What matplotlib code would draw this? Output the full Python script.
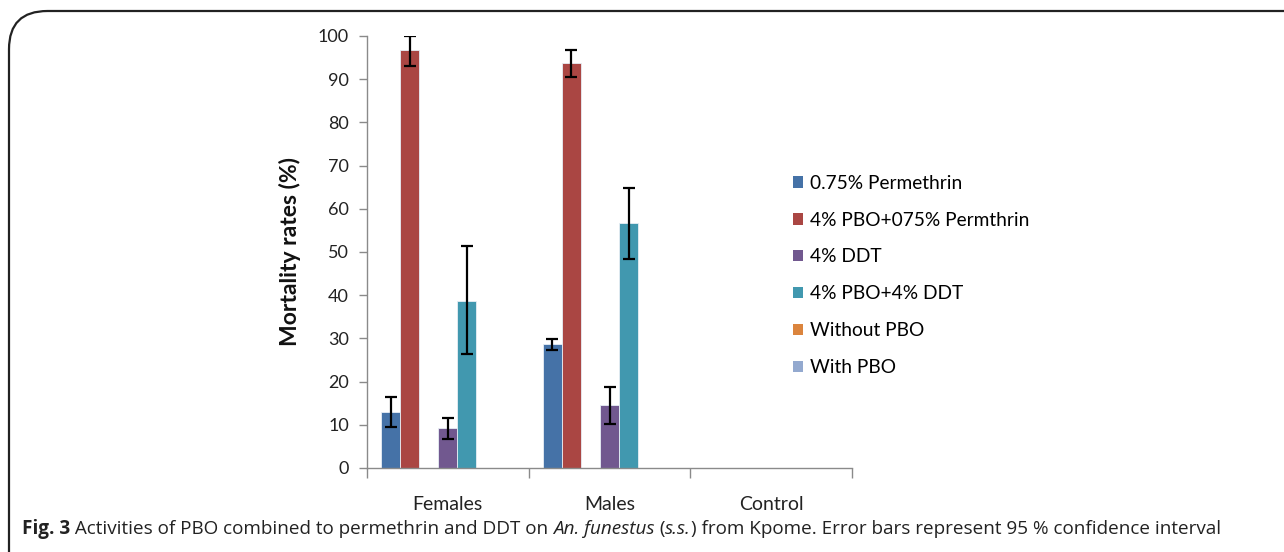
import numpy as np
import matplotlib
matplotlib.use("Agg")
import matplotlib.pyplot as plt
from matplotlib.patches import FancyBboxPatch, Patch

# Data
groups = ["Females", "Males", "Control"]
series = ["0.75% Permethrin", "4% PBO+075% Permthrin", "4% DDT",
          "4% PBO+4% DDT", "Without PBO", "With PBO"]
colors = ["#4572A7", "#AA4643", "#71588F", "#4198AF", "#DB843D", "#93A9CF"]

perm = [12.9, 28.6, 0]
pbo_perm = [96.7, 93.7, 0]
ddt = [9.2, 14.6, 0]
pbo_ddt = [38.7, 56.6, 0]
without_pbo = [0, 0, 0]
with_pbo = [0, 0, 0]

perm_lo = [9.4, 27.4, 0]
perm_hi = [16.5, 29.9, 0]
pbo_perm_lo = [93.1, 90.4, 0]
pbo_perm_hi = [100.0, 96.8, 0]
ddt_lo = [6.6, 10.3, 0]
ddt_hi = [11.6, 18.8, 0]
pbo_ddt_lo = [26.3, 48.3, 0]
pbo_ddt_hi = [51.4, 64.8, 0]

values = [perm, pbo_perm, ddt, pbo_ddt, without_pbo, with_pbo]
lows = [perm_lo, pbo_perm_lo, ddt_lo, pbo_ddt_lo, None, None]
highs = [perm_hi, pbo_perm_hi, ddt_hi, pbo_ddt_hi, None, None]

font = "Lato"
fig = plt.figure(figsize=(12.84, 5.52), dpi=100)

# rounded frame around the figure
frame = FancyBboxPatch((9 / 1284, -0.2), 1.5, 1.2 - 11 / 552,
                       boxstyle="round,pad=0,rounding_size=0.03",
                       transform=fig.transFigure, fill=False,
                       edgecolor="#222222", linewidth=1.6, mutation_aspect=2.3)
fig.patches.append(frame)

ax = fig.add_axes([367 / 1284, 1 - 468 / 552, (852 - 367) / 1284, (468 - 36) / 552])

# 7 slots per group (gap width 150%), one slot left empty after the red bars
slots = [0, 1, 3, 4, 5, 6]
w = 1 / 8.5
x = np.arange(len(groups))
handles = []
for i, name in enumerate(series):
    pos = x + (slots[i] - 3) * w
    vals = np.array(values[i], dtype=float)
    ax.bar(pos, vals, width=w, color=colors[i], edgecolor="#e8eef5", linewidth=0.6, zorder=2)
    if lows[i] is not None:
        lo = vals - np.array(lows[i])
        hi = np.array(highs[i]) - vals
        m = vals > 0
        ax.errorbar(pos[m], vals[m], yerr=[lo[m], hi[m]], fmt="none", ecolor="black",
                    elinewidth=1.6, capsize=4, capthick=1.6, zorder=3)
    handles.append(Patch(facecolor=colors[i], edgecolor="none", label=name))

ax.set_xlim(-0.5, 2.5)
ax.set_ylim(0, 100)
ax.set_yticks(np.arange(0, 101, 10))
ax.set_xticks([-0.5, 0.5, 1.5, 2.5])
ax.set_xticklabels([])
ax.set_xticks(x, minor=True)
ax.set_xticklabels(groups, minor=True, fontsize=14, family=font, color="#222222")
ax.tick_params(axis="x", which="minor", length=0, pad=20)
ax.tick_params(axis="x", which="major", length=7, width=1, color="#8a8a8a", direction="out")
ax.tick_params(axis="y", length=6, width=1, color="#8a8a8a", pad=7, labelsize=13,
               labelcolor="#222222")
for lab in ax.get_yticklabels():
    lab.set_family(font)
for s in ["top", "right"]:
    ax.spines[s].set_visible(False)
for s in ["left", "bottom"]:
    ax.spines[s].set_color("#8a8a8a")
    ax.spines[s].set_linewidth(1)
ax.set_ylabel("Mortality rates (%)", fontsize=16.5, fontweight="bold", family=font,
              color="#111111", labelpad=12)

fig.legend(handles=handles, loc="upper left", bbox_to_anchor=(783 / 1284, 1 - 165 / 552),
           frameon=False, borderpad=0, handlelength=0.55, handleheight=0.55,
           handletextpad=0.35, labelspacing=1.04, prop={"family": font, "size": 13.8})

# caption with mixed bold / italic pieces
pieces = [("Fig. 3", "bold", "normal"),
          (" Activities of PBO combined to permethrin and DDT on ", "normal", "normal"),
          ("An. funestus", "normal", "italic"),
          (" (", "normal", "normal"),
          ("s.s.", "normal", "italic"),
          (") from Kpome. Error bars represent 95 % confidence interval", "normal", "normal")]
renderer = fig.canvas.get_renderer()
xpos = 22
for txt, weight, style in pieces:
    t = fig.text(xpos / 1284, 1 - 529 / 552, txt, fontsize=13.6, family="Open Sans",
                 fontweight=weight, fontstyle=style, va="center", ha="left", color="#222222")
    bb = t.get_window_extent(renderer)
    xpos = bb.x1

fig.savefig("out.png", dpi=100)
